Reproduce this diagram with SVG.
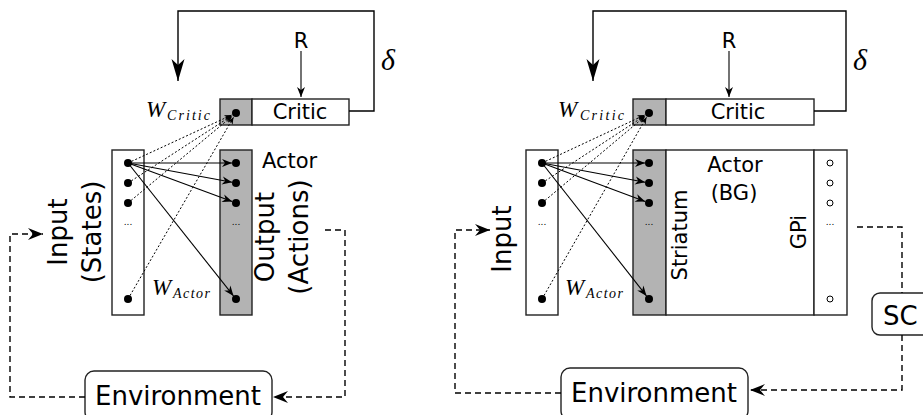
<svg xmlns="http://www.w3.org/2000/svg" width="923" height="415" viewBox="0 0 923 415">
<defs>
<style>
.sans{font-family:"DejaVu Sans","Noto Sans",sans-serif;fill:#000}
.math{font-family:"Liberation Serif","DejaVu Serif",serif;font-style:italic;fill:#000}
.box{stroke:#222;stroke-width:1.4;fill:#fff}
.grey{stroke:#222;stroke-width:1.4;fill:#b3b3b3}
.solid{stroke:#000;stroke-width:1.4;fill:none}
.thin{stroke:#000;stroke-width:1.1;fill:none}
.dot{stroke:#000;stroke-width:1;fill:none;stroke-dasharray:2 2}
.dash{stroke:#000;stroke-width:1.4;fill:none;stroke-dasharray:6 4}
.env{stroke:#222;stroke-width:1.4;fill:#fff}
.n{fill:#000}
.h{fill:#fff;stroke:#000;stroke-width:1}
</style>
<marker id="big" viewBox="-24 -8 26 16" refX="0" refY="0" markerWidth="26" markerHeight="16" markerUnits="userSpaceOnUse" orient="auto">
<path d="M0,0 L-22,-6.5 L-16,0 L-22,6.5 Z" fill="#000"/>
</marker>
<marker id="small" viewBox="-12 -6 14 12" refX="0" refY="0" markerWidth="14" markerHeight="12" markerUnits="userSpaceOnUse" orient="auto">
<path d="M0,0 L-10,-4 L-7,0 L-10,4 Z" fill="#000"/>
</marker>
<marker id="tiny" viewBox="-10 -5 12 10" refX="0" refY="0" markerWidth="12" markerHeight="10" markerUnits="userSpaceOnUse" orient="auto">
<path d="M0,0 L-7,-3 L-5,0 L-7,3 Z" fill="#000"/>
</marker>
<marker id="dashhead" viewBox="-18 -8 20 16" refX="0" refY="0" markerWidth="20" markerHeight="16" markerUnits="userSpaceOnUse" orient="auto">
<path d="M0,0 L-15,-6 L-10,0 L-15,6 Z" fill="#000"/>
</marker>
</defs>
<rect width="923" height="415" fill="#fff"/>

<!-- ================= LEFT DIAGRAM ================= -->
<g id="left-critic">
<rect class="grey" x="220" y="99" width="32" height="26"/>
<rect class="box" x="252" y="99" width="97" height="26"/>
<circle class="n" cx="236" cy="113" r="4"/>
<text class="sans" x="300" y="119" font-size="21" text-anchor="middle">Critic</text>
</g>
<g id="left-R"><text class="sans" x="301" y="48" font-size="21" text-anchor="middle">R</text></g>
<g id="left-delta"><text class="math" x="388" y="70" font-size="30" text-anchor="middle">δ</text></g>
<g id="left-wcritic"><text class="math" x="146" y="117" font-size="23">W</text><text class="math" x="167" y="120" font-size="14" textLength="43" lengthAdjust="spacing">Critic</text></g>
<g id="left-wactor"><text class="math" x="152" y="295" font-size="23">W</text><text class="math" x="173" y="298" font-size="14" textLength="37" lengthAdjust="spacing">Actor</text></g>

<g id="left-input">
<rect class="box" x="112" y="150" width="32" height="165"/>
<circle class="n" cx="128" cy="163" r="4"/>
<circle class="n" cx="128" cy="183" r="4"/>
<circle class="n" cx="128" cy="203" r="4"/>
<circle class="n" cx="128" cy="299" r="4"/>
<text class="sans" x="128" y="225" font-size="9" text-anchor="middle">...</text>
<text class="sans" font-size="26" text-anchor="middle" transform="translate(67,232) rotate(-90)">Input</text>
<text class="sans" font-size="26" text-anchor="middle" transform="translate(101,232) rotate(-90)">(States)</text>
</g>
<g id="left-output">
<rect class="grey" x="220" y="150" width="32" height="165"/>
<circle class="n" cx="236" cy="163" r="4"/>
<circle class="n" cx="236" cy="183" r="4"/>
<circle class="n" cx="236" cy="203" r="4"/>
<circle class="n" cx="236" cy="299" r="4"/>
<text class="sans" x="236" y="225" font-size="9" text-anchor="middle">...</text>
<text class="sans" x="262" y="168" font-size="21">Actor</text>
<text class="sans" font-size="26" text-anchor="middle" transform="translate(274,237) rotate(-90)">Output</text>
<text class="sans" font-size="26" text-anchor="middle" transform="translate(308,237) rotate(-90)">(Actions)</text>
</g>
<g id="left-environment">
<rect class="env" x="85" y="371" width="187" height="50" rx="9"/>
<text class="sans" x="178" y="405" font-size="26" text-anchor="middle">Environment</text>
</g>

<!-- ================= RIGHT DIAGRAM ================= -->
<g id="right-critic">
<rect class="grey" x="633" y="99" width="33" height="26"/>
<rect class="box" x="666" y="99" width="148" height="26"/>
<circle class="n" cx="649" cy="113" r="4"/>
<text class="sans" x="738" y="119" font-size="21" text-anchor="middle">Critic</text>
</g>
<g id="right-R"><text class="sans" x="729" y="48" font-size="21" text-anchor="middle">R</text></g>
<g id="right-delta"><text class="math" x="860" y="70" font-size="30" text-anchor="middle">δ</text></g>
<g id="right-wcritic"><text class="math" x="558" y="117" font-size="23">W</text><text class="math" x="580" y="120" font-size="14" textLength="44" lengthAdjust="spacing">Critic</text></g>
<g id="right-wactor"><text class="math" x="565" y="295" font-size="23">W</text><text class="math" x="586" y="298" font-size="14" textLength="37" lengthAdjust="spacing">Actor</text></g>

<g id="right-input">
<rect class="box" x="526" y="150" width="32" height="165"/>
<circle class="n" cx="542" cy="163" r="4"/>
<circle class="n" cx="542" cy="183" r="4"/>
<circle class="n" cx="542" cy="203" r="4"/>
<circle class="n" cx="542" cy="299" r="4"/>
<text class="sans" x="542" y="225" font-size="9" text-anchor="middle">...</text>
<text class="sans" font-size="26" text-anchor="middle" transform="translate(511,239) rotate(-90)">Input</text>
</g>
<g id="right-actor">
<rect class="grey" x="633" y="150" width="33" height="165"/>
<rect class="box" x="666" y="150" width="148" height="165"/>
<rect class="box" x="814" y="150" width="33" height="165"/>
<circle class="n" cx="649" cy="163" r="4"/>
<circle class="n" cx="649" cy="183" r="4"/>
<circle class="n" cx="649" cy="203" r="4"/>
<circle class="n" cx="649" cy="299" r="4"/>
<text class="sans" x="649" y="225" font-size="9" text-anchor="middle">...</text>
<circle class="h" cx="830" cy="163" r="3"/>
<circle class="h" cx="830" cy="183" r="3"/>
<circle class="h" cx="830" cy="203" r="3"/>
<circle class="h" cx="830" cy="299" r="3"/>
<text class="sans" x="830" y="225" font-size="9" text-anchor="middle">...</text>
<text class="sans" x="735" y="172" font-size="21" text-anchor="middle">Actor</text>
<text class="sans" x="734" y="200" font-size="21" text-anchor="middle">(BG)</text>
<text class="sans" font-size="21" text-anchor="middle" transform="translate(687,235) rotate(-90)">Striatum</text>
<text class="sans" font-size="21" text-anchor="middle" transform="translate(806,232) rotate(-90)">GPi</text>
</g>
<g id="right-sc">
<rect class="env" x="872" y="293" width="70" height="42" rx="8"/>
<text class="sans" x="883" y="325" font-size="26">SC</text>
</g>
<g id="right-environment">
<rect class="env" x="561" y="368" width="187" height="52" rx="9"/>
<text class="sans" x="654" y="402" font-size="26" text-anchor="middle">Environment</text>
</g>

<!-- ================= CONNECTORS ================= -->
<g id="connectors">
<!-- left -->
<path class="solid" d="M349,111 H374 V11 H178 V81" marker-end="url(#big)"/>
<path class="thin" d="M301,51 V97" marker-end="url(#small)"/>
<path class="thin" d="M128,163 L232,163" marker-end="url(#small)"/>
<path class="thin" d="M128,163 L232.1,182.3" marker-end="url(#small)"/>
<path class="thin" d="M128,163 L232.2,201.6" marker-end="url(#small)"/>
<path class="thin" d="M128,163 L233.5,295.9" marker-end="url(#small)"/>
<path class="dot" d="M128,163 L231.5,115.1" marker-end="url(#tiny)"/>
<path class="dot" d="M128,183 L231.8,115.7" marker-end="url(#tiny)"/>
<path class="dot" d="M128,203 L232.2,116.2" marker-end="url(#tiny)"/>
<path class="dot" d="M128,299 L233.5,117.3" marker-end="url(#tiny)"/>
<path class="dash" d="M85,397 H10 V234 H43" marker-end="url(#dashhead)"/>
<path class="dash" d="M325,230 H345 V397 H273" marker-end="url(#dashhead)"/>
<!-- right -->
<path class="solid" d="M814,111 H846 V11 H593 V81" marker-end="url(#big)"/>
<path class="thin" d="M729,51 V97" marker-end="url(#small)"/>
<path class="thin" d="M542,163 L645,163" marker-end="url(#small)"/>
<path class="thin" d="M542,163 L645.1,182.3" marker-end="url(#small)"/>
<path class="thin" d="M542,163 L645.2,201.6" marker-end="url(#small)"/>
<path class="thin" d="M542,163 L646.5,295.9" marker-end="url(#small)"/>
<path class="dot" d="M542,163 L644.5,115.1" marker-end="url(#tiny)"/>
<path class="dot" d="M542,183 L644.8,115.7" marker-end="url(#tiny)"/>
<path class="dot" d="M542,203 L645.2,116.2" marker-end="url(#tiny)"/>
<path class="dot" d="M542,299 L646.5,117.3" marker-end="url(#tiny)"/>
<path class="dash" d="M561,393 H455 V230 H490" marker-end="url(#dashhead)"/>
<path class="dash" d="M857,227 H902 V293"/>
<path class="dash" d="M902,335 V390 H750" marker-end="url(#dashhead)"/>
</g>
</svg>
